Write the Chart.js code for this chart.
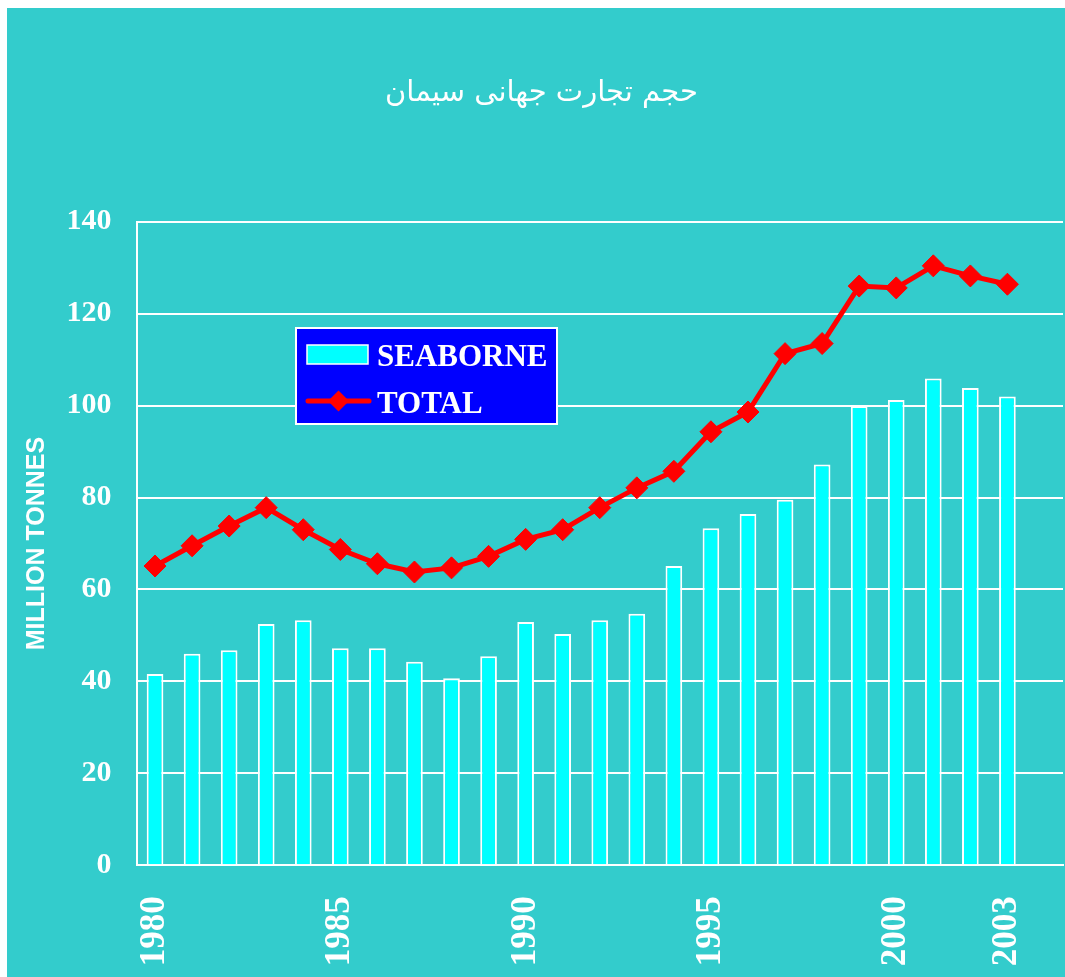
<!DOCTYPE html>
<html><head><meta charset="utf-8">
<script src="https://cdn.jsdelivr.net/npm/chart.js@4/dist/chart.umd.min.js"></script>
<style>html,body{margin:0;padding:0;background:#fff;overflow:hidden}canvas{display:block}</style>
</head><body>
<canvas id="c" width="1065" height="977"></canvas>
<script>
// ---- data ----
const titleText = 'حجم تجارت جهانی سیمان';
const yAxisTitle = 'MILLION TONNES';
const years = [1980,1981,1982,1983,1984,1985,1986,1987,1988,1989,1990,1991,1992,1993,1994,1995,1996,1997,1998,1999,2000,2001,2002,2003,2004];
const shownYears = [1980,1985,1990,1995,2000,2003];
const seaborneLabel = 'SEABORNE';
const seaborne = [41.6,46.0,46.8,52.5,53.3,47.2,47.2,44.3,40.7,45.5,52.9,50.3,53.3,54.7,65.1,73.3,76.4,79.5,87.2,99.9,101.2,105.9,103.8,102.0];
const totalLabel = 'TOTAL';
const total = [65.1,69.5,73.8,77.8,73.0,68.7,65.6,63.8,64.7,67.2,70.9,73.0,77.8,82.1,85.7,94.3,98.6,111.3,113.5,126.0,125.6,130.4,128.2,126.4];
const yMin = 0, yMax = 140, yStep = 20;

// ---- style ----
const BG = '#33CCCC', WHITE = '#FFFFFF', BAR = '#00FFFF', LINE = '#FF0000', LEG = '#0000FF';
const SERIF = "'Liberation Serif', 'Times New Roman', serif";

const bgPlugin = {
  id: 'bg',
  beforeDraw(chart) {
    const ctx = chart.ctx;
    ctx.save();
    ctx.fillStyle = WHITE;
    ctx.fillRect(0, 0, chart.width, chart.height);
    ctx.fillStyle = BG;
    ctx.fillRect(7, 8, chart.width - 7, chart.height - 8);
    ctx.restore();
  }
};

const legendPlugin = {
  id: 'boxLegend',
  afterDraw(chart) {
    const ctx = chart.ctx;
    const ds = chart.data.datasets;
    const barDs = ds.find(d => d.type === 'bar');
    const lineDs = ds.find(d => d.type === 'line');
    ctx.save();
    // box
    ctx.fillStyle = LEG;
    ctx.fillRect(296, 328, 261, 96);
    ctx.strokeStyle = WHITE;
    ctx.lineWidth = 2;
    ctx.strokeRect(296, 328, 261, 96);
    // bar swatch
    ctx.fillStyle = barDs.backgroundColor;
    ctx.fillRect(307, 345, 61, 19);
    ctx.strokeStyle = barDs.borderColor;
    ctx.lineWidth = 1.5;
    ctx.strokeRect(307, 345, 61, 19);
    // line swatch
    ctx.strokeStyle = lineDs.borderColor;
    ctx.lineWidth = 5;
    ctx.lineCap = 'round';
    ctx.beginPath();
    ctx.moveTo(308, 401);
    ctx.lineTo(369, 401);
    ctx.stroke();
    ctx.fillStyle = lineDs.borderColor;
    ctx.beginPath();
    ctx.moveTo(338.5, 390.5);
    ctx.lineTo(349, 401);
    ctx.lineTo(338.5, 411.5);
    ctx.lineTo(328, 401);
    ctx.closePath();
    ctx.fill();
    // text
    ctx.fillStyle = WHITE;
    ctx.font = 'bold 31px ' + SERIF;
    ctx.textAlign = 'left';
    ctx.textBaseline = 'alphabetic';
    ctx.fillText(barDs.label, 377, 366);
    ctx.fillText(lineDs.label, 377, 413);
    ctx.restore();
  }
};

new Chart(document.getElementById('c'), {
  type: 'bar',
  data: {
    labels: years.map(String),
    datasets: [
      {
        type: 'line',
        label: totalLabel,
        data: total,
        borderColor: LINE,
        backgroundColor: LINE,
        borderWidth: 5,
        pointStyle: 'rectRot',
        pointRadius: 11,
        pointBorderWidth: 1,
        pointBackgroundColor: LINE,
        pointBorderColor: LINE,
        tension: 0,
        clip: false,
        order: 0
      },
      {
        type: 'bar',
        label: seaborneLabel,
        data: seaborne,
        backgroundColor: BAR,
        borderColor: WHITE,
        borderWidth: 2,
        categoryPercentage: 1,
        barPercentage: 0.45,
        order: 1
      }
    ]
  },
  options: {
    responsive: false,
    animation: false,
    devicePixelRatio: 1,
    layout: { autoPadding: false, padding: { left: 20, right: 2, top: 0, bottom: 0 } },
    plugins: {
      legend: { display: false },
      tooltip: { enabled: false },
      title: {
        display: true,
        text: titleText,
        color: WHITE,
        font: { family: "'DejaVu Sans', sans-serif", size: 29, weight: 'normal', lineHeight: 1.2 },
        padding: { top: 75.6, bottom: 111.3 }
      }
    },
    scales: {
      x: {
        offset: true,
        grid: { display: false, drawTicks: false },
        border: { display: true, color: WHITE, width: 2 },
        ticks: {
          autoSkip: false,
          minRotation: 90,
          maxRotation: 90,
          padding: 31,
          color: WHITE,
          font: { family: SERIF, size: 35, weight: 'bold' },
          callback: function (v, i) { return shownYears.includes(years[i]) ? String(years[i]) : ''; }
        },
        afterFit(scale) { scale.height = 111.7; scale.paddingRight = 0; scale.paddingLeft = 0; }
      },
      y: {
        min: yMin,
        max: yMax,
        grid: { color: WHITE, lineWidth: 2, drawTicks: false },
        border: { display: true, color: WHITE, width: 2 },
        ticks: {
          stepSize: yStep,
          padding: 25,
          color: WHITE,
          font: { family: SERIF, size: 30, weight: 'bold' }
        },
        title: {
          display: true,
          text: yAxisTitle,
          color: WHITE,
          font: { family: "'Liberation Sans', Arial, sans-serif", size: 25, weight: 'bold', lineHeight: 1.2 },
          padding: { top: 2.5, bottom: 0 }
        },
        afterFit(scale) { scale.width = 116.5; }
      }
    }
  },
  plugins: [bgPlugin, legendPlugin]
});
</script>
</body></html>
